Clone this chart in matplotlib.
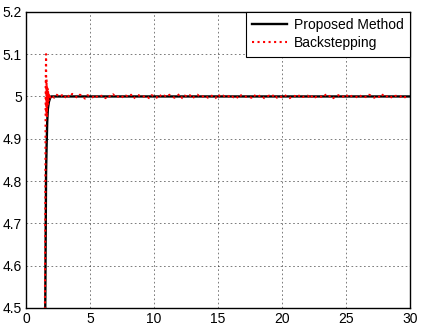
import numpy as np
import matplotlib
matplotlib.use("Agg")
import matplotlib.pyplot as plt

plt.rcParams["font.family"] = ["Liberation Sans", "DejaVu Sans"]

# proposed method response (time, value)
prop_t = [0.0, 1.48, 1.52, 1.56, 1.60, 1.65, 1.70, 1.78, 1.86, 1.95, 2.10, 30.0]
prop_y = [4.40, 4.40, 4.62, 4.82, 4.88, 4.94, 4.97, 4.987, 4.995, 5.0, 5.0, 5.0]

# backstepping transient (time, value)
bs_t0 = [0.0, 1.46, 1.50, 1.53, 1.56, 1.58, 1.60, 1.62, 1.64, 1.66, 1.68, 1.70,
         1.72, 1.74, 1.77, 1.80, 1.84, 1.88, 1.92]
bs_y0 = [4.40, 4.40, 4.75, 5.02, 5.10, 4.96, 5.04, 4.95, 5.025, 4.975, 5.02, 4.98,
         5.012, 4.99, 5.008, 4.993, 5.005, 4.997, 5.002]

# backstepping steady-state ripple, sampled every 0.2 s from 2.0 s (x 1e-3)
bs_ripple = [2, -3, 4, -1, 3, -4, 5, -2, 6, 1, -3, 4, 2, -5, 3, 0, -2, 4, -3, 1,
             2, -4, 3, -1, 5, -2, 0, 3, -3, 2, -1, 4, -5, 1, 3, -2, 0, 2, -4, 3,
             1, -3, 5, -1, 2, -2, 4, 0, -3, 1, 6, -4, 2, -1, 3, -5, 1, 4, -2, 0,
             3, -3, 2, 1, -4, 5, -1, 2, -3, 0, 4, -2, 1, -5, 3, 2, -1, 0, -3, 4,
             -2, 1, 3, -4, 0, 2, -1, 5, -3, 1, -2, 3, 0, -4, 2, 1, -3, 4, -1, 0,
             2, -5, 3, -2, 1, 0, -3, 4, -1, 2, -4, 1, 3, -2, 0, 5, -3, 1, 2, -1,
             -4, 3, 0, -2, 4, 1, -3, 2, -1, 6, -2, 0, 3, -4, 1, 2, -1, 3, -2, 1]

ripple_t = 2.0 + 0.2 * np.arange(len(bs_ripple))
bs_t = np.concatenate([bs_t0, ripple_t])
bs_y = np.concatenate([bs_y0, 5.0 + np.array(bs_ripple) / 1000.0])

fig = plt.figure(figsize=(4.21, 3.30), dpi=100)
ax = fig.add_axes([0.062, 0.067, 0.912, 0.897])

ax.plot(prop_t, prop_y, color="black", lw=1.7, label="Proposed Method")
ax.plot(bs_t, bs_y, color="red", lw=1.5, ls=":", label="Backstepping")

ax.set_xlim(0, 30)
ax.set_ylim(4.5, 5.2)
ax.set_xticks(range(0, 31, 5))
ax.set_yticks([4.5, 4.6, 4.7, 4.8, 4.9, 5.0, 5.1, 5.2])
ax.set_yticklabels(["4.5", "4.6", "4.7", "4.8", "4.9", "5", "5.1", "5.2"])
ax.tick_params(labelsize=10, length=0, pad=3)
ax.grid(True, color="black", ls=(0, (2, 3)), lw=0.6, alpha=0.6)
for s in ax.spines.values():
    s.set_linewidth(1.0)

leg = ax.legend(loc="upper right", fontsize=10, fancybox=False, framealpha=1,
                edgecolor="black", borderaxespad=0, handlelength=2.5,
                borderpad=0.45, labelspacing=0.3, handletextpad=0.5)
leg.get_frame().set_linewidth(0.8)

fig.savefig("out.png", dpi=100)
